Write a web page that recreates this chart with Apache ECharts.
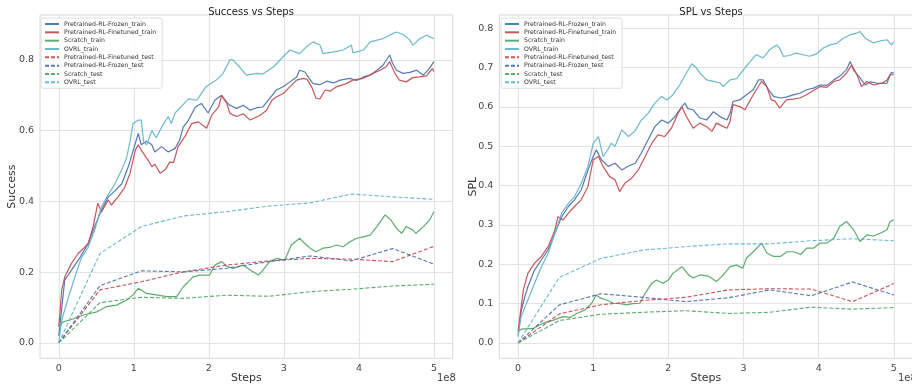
<!DOCTYPE html>
<html>
<head>
<meta charset="utf-8">
<script src="https://cdn.jsdelivr.net/npm/echarts@6/dist/echarts.min.js"></script>
<style>html,body{margin:0;padding:0;background:#fff}#c{width:912px;height:385px}</style>
</head>
<body>
<div id="c"></div>
<script>
// x values are training steps in units of 1e8
const xTicks = [0, 1, 2, 3, 4, 5];
const successTicks = [0, 0.2, 0.4, 0.6, 0.8];
const splTicks = [0, 0.1, 0.2, 0.3, 0.4, 0.5, 0.6, 0.7, 0.8];
const seriesNames = ['Pretrained-RL-Frozen_train','Pretrained-RL-Finetuned_train','Scratch_train','OVRL_train','Pretrained-RL-Finetuned_test','Pretrained-RL-Frozen_test','Scratch_test','OVRL_test'];

const successFrozenTrain = [[0,0.02],[0.04,0.10],[0.08,0.178],[0.17,0.206],[0.26,0.234],[0.39,0.28],[0.48,0.33],[0.57,0.376],[0.66,0.413],[0.75,0.43],[0.84,0.45],[0.93,0.50],[1.02,0.564],[1.06,0.592],[1.1,0.56],[1.17,0.57],[1.24,0.56],[1.28,0.54],[1.37,0.555],[1.46,0.54],[1.55,0.55],[1.61,0.573],[1.66,0.611],[1.73,0.63],[1.82,0.667],[1.9,0.677],[1.99,0.65],[2.08,0.686],[2.17,0.70],[2.24,0.68],[2.28,0.672],[2.37,0.663],[2.46,0.672],[2.55,0.658],[2.64,0.665],[2.72,0.667],[2.79,0.686],[2.9,0.715],[2.99,0.724],[3.08,0.738],[3.17,0.752],[3.21,0.771],[3.28,0.766],[3.33,0.75],[3.39,0.733],[3.48,0.73],[3.57,0.74],[3.66,0.735],[3.75,0.743],[3.88,0.748],[3.97,0.742],[4.06,0.752],[4.15,0.757],[4.24,0.771],[4.32,0.785],[4.41,0.814],[4.45,0.79],[4.5,0.771],[4.59,0.762],[4.68,0.765],[4.77,0.771],[4.86,0.757],[4.94,0.776],[5.0,0.795]];
const successFinetunedTrain = [[0,0.045],[0.04,0.15],[0.08,0.187],[0.17,0.225],[0.26,0.253],[0.39,0.28],[0.46,0.33],[0.52,0.395],[0.57,0.37],[0.66,0.404],[0.7,0.39],[0.79,0.413],[0.88,0.44],[0.95,0.48],[1.02,0.545],[1.06,0.56],[1.1,0.545],[1.19,0.517],[1.24,0.498],[1.28,0.505],[1.35,0.48],[1.42,0.49],[1.48,0.512],[1.53,0.51],[1.59,0.555],[1.68,0.583],[1.77,0.62],[1.86,0.625],[1.97,0.607],[2.04,0.644],[2.13,0.667],[2.17,0.70],[2.24,0.677],[2.28,0.649],[2.37,0.64],[2.46,0.648],[2.55,0.63],[2.68,0.643],[2.77,0.658],[2.84,0.686],[2.9,0.695],[2.99,0.705],[3.08,0.724],[3.17,0.743],[3.26,0.748],[3.31,0.745],[3.37,0.724],[3.43,0.691],[3.48,0.69],[3.55,0.715],[3.62,0.712],[3.7,0.724],[3.83,0.733],[3.92,0.743],[4.06,0.748],[4.19,0.762],[4.28,0.771],[4.36,0.78],[4.41,0.795],[4.48,0.762],[4.54,0.743],[4.63,0.738],[4.72,0.75],[4.81,0.752],[4.9,0.755],[4.98,0.776],[5.0,0.767]];
const successScratchTrain = [[0,0.046],[0.06,0.06],[0.15,0.065],[0.33,0.079],[0.51,0.088],[0.64,0.103],[0.77,0.107],[0.9,0.121],[0.99,0.136],[1.06,0.155],[1.17,0.14],[1.3,0.136],[1.44,0.131],[1.57,0.131],[1.66,0.159],[1.79,0.187],[1.88,0.192],[2.01,0.192],[2.08,0.22],[2.17,0.23],[2.24,0.217],[2.32,0.211],[2.46,0.22],[2.55,0.206],[2.66,0.192],[2.72,0.206],[2.81,0.23],[2.9,0.239],[3.01,0.234],[3.1,0.277],[3.21,0.296],[3.28,0.281],[3.35,0.268],[3.43,0.258],[3.52,0.268],[3.61,0.27],[3.7,0.277],[3.79,0.272],[3.88,0.286],[3.97,0.296],[4.06,0.30],[4.15,0.305],[4.24,0.329],[4.35,0.362],[4.43,0.347],[4.5,0.324],[4.57,0.31],[4.63,0.329],[4.72,0.319],[4.76,0.31],[4.86,0.329],[4.94,0.347],[5.0,0.371]];
const successOvrlTrain = [[0,0.0],[0.04,0.065],[0.13,0.13],[0.22,0.19],[0.3,0.24],[0.39,0.27],[0.48,0.32],[0.57,0.385],[0.66,0.42],[0.75,0.45],[0.84,0.49],[0.9,0.52],[0.95,0.57],[0.99,0.62],[1.06,0.63],[1.1,0.63],[1.13,0.57],[1.17,0.56],[1.24,0.60],[1.3,0.58],[1.37,0.61],[1.46,0.64],[1.5,0.62],[1.55,0.65],[1.64,0.67],[1.73,0.69],[1.84,0.686],[1.96,0.724],[2.1,0.743],[2.19,0.762],[2.28,0.80],[2.32,0.80],[2.41,0.78],[2.5,0.757],[2.64,0.762],[2.72,0.76],[2.86,0.78],[2.99,0.809],[3.08,0.828],[3.21,0.818],[3.3,0.837],[3.39,0.851],[3.48,0.842],[3.52,0.818],[3.65,0.822],[3.79,0.828],[3.9,0.842],[3.92,0.82],[4.06,0.828],[4.15,0.851],[4.32,0.86],[4.41,0.87],[4.5,0.879],[4.59,0.872],[4.68,0.856],[4.72,0.842],[4.81,0.86],[4.9,0.87],[5.0,0.86]];

const testSteps = [0, 0.55, 1.1, 1.66, 2.23, 2.8, 3.35, 3.9, 4.45, 5.0];
const successFinetunedTest = [0, 0.15, 0.173, 0.201, 0.22, 0.232, 0.239, 0.237, 0.23, 0.273];
const successFrozenTest = [0, 0.162, 0.204, 0.201, 0.211, 0.23, 0.246, 0.232, 0.267, 0.223];
const successScratchTest = [0, 0.114, 0.129, 0.126, 0.135, 0.132, 0.145, 0.152, 0.161, 0.166];
const successOvrlTest = [0, 0.253, 0.329, 0.359, 0.371, 0.387, 0.396, 0.421, 0.413, 0.406];

const splFrozenTrain = [[0,0.02],[0.04,0.08],[0.09,0.118],[0.13,0.143],[0.22,0.186],[0.31,0.211],[0.4,0.237],[0.49,0.279],[0.58,0.321],[0.67,0.347],[0.75,0.364],[0.84,0.389],[0.93,0.44],[1.0,0.474],[1.04,0.491],[1.11,0.466],[1.2,0.449],[1.29,0.457],[1.38,0.44],[1.47,0.45],[1.56,0.457],[1.64,0.483],[1.73,0.517],[1.82,0.55],[1.91,0.567],[2.0,0.559],[2.09,0.576],[2.18,0.601],[2.22,0.61],[2.26,0.596],[2.33,0.593],[2.42,0.572],[2.51,0.567],[2.6,0.588],[2.69,0.575],[2.78,0.567],[2.82,0.584],[2.86,0.614],[2.95,0.618],[3.04,0.631],[3.13,0.644],[3.2,0.669],[3.26,0.669],[3.33,0.645],[3.4,0.627],[3.49,0.623],[3.57,0.625],[3.66,0.631],[3.75,0.635],[3.84,0.644],[3.93,0.648],[4.02,0.656],[4.11,0.655],[4.2,0.669],[4.28,0.678],[4.37,0.695],[4.42,0.716],[4.46,0.695],[4.55,0.674],[4.62,0.656],[4.69,0.664],[4.77,0.661],[4.84,0.66],[4.91,0.669],[4.97,0.688],[5.0,0.686]];
const splFinetunedTrain = [[0,0.03],[0.07,0.135],[0.13,0.177],[0.22,0.203],[0.31,0.22],[0.4,0.245],[0.49,0.287],[0.53,0.321],[0.6,0.313],[0.67,0.33],[0.75,0.347],[0.84,0.364],[0.93,0.398],[1.0,0.466],[1.07,0.474],[1.13,0.449],[1.22,0.423],[1.29,0.415],[1.35,0.385],[1.42,0.406],[1.51,0.419],[1.6,0.44],[1.69,0.474],[1.78,0.508],[1.86,0.529],[1.95,0.525],[2.04,0.546],[2.13,0.584],[2.18,0.601],[2.24,0.576],[2.33,0.546],[2.42,0.559],[2.51,0.55],[2.58,0.538],[2.64,0.559],[2.71,0.552],[2.78,0.546],[2.82,0.563],[2.86,0.606],[2.95,0.601],[3.02,0.593],[3.09,0.618],[3.17,0.644],[3.24,0.665],[3.31,0.652],[3.37,0.618],[3.42,0.615],[3.48,0.597],[3.57,0.618],[3.66,0.62],[3.75,0.623],[3.84,0.631],[3.93,0.642],[4.02,0.652],[4.11,0.65],[4.2,0.665],[4.28,0.669],[4.37,0.686],[4.44,0.707],[4.51,0.682],[4.57,0.652],[4.64,0.665],[4.73,0.656],[4.82,0.66],[4.91,0.661],[4.95,0.682],[5.0,0.682]];
const splScratchTrain = [[0,0.029],[0.04,0.035],[0.2,0.037],[0.33,0.05],[0.47,0.058],[0.6,0.067],[0.69,0.065],[0.78,0.075],[0.89,0.084],[0.98,0.101],[1.04,0.122],[1.1,0.114],[1.17,0.11],[1.27,0.101],[1.36,0.1],[1.44,0.097],[1.53,0.1],[1.62,0.101],[1.69,0.126],[1.78,0.152],[1.84,0.16],[1.93,0.152],[2.0,0.16],[2.06,0.177],[2.18,0.194],[2.27,0.173],[2.33,0.165],[2.42,0.173],[2.53,0.17],[2.64,0.156],[2.73,0.173],[2.82,0.194],[2.91,0.198],[2.99,0.19],[3.04,0.216],[3.13,0.232],[3.24,0.254],[3.31,0.229],[3.4,0.22],[3.49,0.22],[3.58,0.232],[3.67,0.232],[3.76,0.225],[3.84,0.241],[3.93,0.241],[4.02,0.254],[4.11,0.254],[4.2,0.266],[4.28,0.296],[4.37,0.309],[4.46,0.289],[4.55,0.258],[4.64,0.275],[4.73,0.272],[4.82,0.279],[4.91,0.288],[4.95,0.309],[5.0,0.313]];
const splOvrlTrain = [[0,0.016],[0.04,0.067],[0.13,0.109],[0.22,0.152],[0.31,0.194],[0.4,0.228],[0.49,0.279],[0.58,0.33],[0.67,0.355],[0.75,0.372],[0.84,0.406],[0.93,0.449],[1.0,0.508],[1.07,0.525],[1.13,0.474],[1.19,0.49],[1.24,0.508],[1.29,0.5],[1.38,0.542],[1.47,0.525],[1.56,0.54],[1.64,0.567],[1.73,0.584],[1.82,0.61],[1.91,0.627],[1.98,0.618],[2.06,0.631],[2.15,0.656],[2.24,0.686],[2.31,0.71],[2.37,0.70],[2.42,0.686],[2.51,0.669],[2.6,0.665],[2.69,0.661],[2.73,0.652],[2.82,0.669],[2.91,0.672],[3.0,0.695],[3.09,0.716],[3.17,0.733],[3.26,0.725],[3.35,0.746],[3.44,0.758],[3.48,0.75],[3.53,0.729],[3.61,0.731],[3.7,0.737],[3.79,0.733],[3.88,0.729],[3.97,0.735],[4.06,0.75],[4.15,0.758],[4.24,0.762],[4.33,0.775],[4.42,0.784],[4.51,0.788],[4.55,0.792],[4.62,0.775],[4.73,0.763],[4.82,0.768],[4.91,0.771],[4.97,0.758],[5.0,0.766]];

const splFinetunedTest = [0, 0.074, 0.097, 0.108, 0.116, 0.135, 0.138, 0.137, 0.105, 0.151];
const splFrozenTest = [0, 0.097, 0.125, 0.116, 0.105, 0.115, 0.135, 0.12, 0.155, 0.122];
const splScratchTest = [0, 0.057, 0.073, 0.078, 0.082, 0.075, 0.078, 0.091, 0.086, 0.09];
const splOvrlTest = [0, 0.167, 0.215, 0.236, 0.245, 0.252, 0.252, 0.26, 0.265, 0.26];

const BLUE = '#4C72B0', RED = '#C44E52', GREEN = '#55A868', CYAN = '#64B5CD';
const FONT = 'DejaVu Sans';
const zip = (xs, ys) => xs.map((x, i) => [x, ys[i]]);

function mk(name, data, color, dashed, gi) {
  return {
    type: 'line', name, data, xAxisIndex: gi, yAxisIndex: gi,
    symbol: 'none', showSymbol: false, animation: false,
    lineStyle: { color, width: dashed ? 1.1 : 1.2, type: dashed ? [4, 2] : 'solid', opacity: 0.95 },
    itemStyle: { color }
  };
}

function seriesFor(gi, tr, te) {
  return [
    mk(seriesNames[0], tr[0], BLUE, false, gi),
    mk(seriesNames[1], tr[1], RED, false, gi),
    mk(seriesNames[2], tr[2], GREEN, false, gi),
    mk(seriesNames[3], tr[3], CYAN, false, gi),
    mk(seriesNames[4], zip(testSteps, te[0]), RED, true, gi),
    mk(seriesNames[5], zip(testSteps, te[1]), BLUE, true, gi),
    mk(seriesNames[6], zip(testSteps, te[2]), GREEN, true, gi),
    mk(seriesNames[7], zip(testSteps, te[3]), CYAN, true, gi)
  ];
}

function xAxis(gi) {
  return {
    type: 'value', gridIndex: gi, min: -0.25, max: 5.25,
    name: 'Steps', nameLocation: 'middle', nameGap: 14, nameMoveOverlap: false,
    nameTextStyle: { fontFamily: FONT, fontSize: 11, color: '#333' },
    axisLine: { show: false }, axisTick: { show: false, customValues: xTicks },
    axisLabel: { customValues: xTicks, fontFamily: FONT, fontSize: 9.5, color: '#444', margin: 5, formatter: v => String(Math.round(v)) },
    splitLine: { show: true, lineStyle: { color: '#e3e3e3', width: 1.2 } }
  };
}
function yAxis(gi, min, max, ticks, name, gap) {
  return {
    type: 'value', gridIndex: gi, min, max,
    name, nameLocation: 'middle', nameGap: gap, nameRotate: 90, nameMoveOverlap: false,
    nameTextStyle: { fontFamily: FONT, fontSize: 11, color: '#333' },
    axisLine: { show: false }, axisTick: { show: false, customValues: ticks },
    axisLabel: { customValues: ticks, fontFamily: FONT, fontSize: 9.5, color: '#444', margin: 6, formatter: v => v.toFixed(1) },
    splitLine: { show: true, lineStyle: { color: '#e3e3e3', width: 1.2 } }
  };
}
function legend(left) {
  return {
    data: seriesNames.map(n => ({ name: n })), orient: 'vertical', left, top: 18,
    itemWidth: 14, itemHeight: 7, itemGap: 2.33,
    itemStyle: { opacity: 0 },
    textStyle: { fontFamily: FONT, fontSize: 6.2, color: '#333', padding: [0, 0, 0, 0] },
    padding: [3, 6, 3, 3], borderColor: '#d6d6d6', borderWidth: 0.8, borderRadius: 2,
    backgroundColor: 'rgba(255,255,255,0.85)', selectedMode: false
  };
}

const chart = echarts.init(document.getElementById('c'), null, { renderer: 'canvas' });
chart.setOption({
  animation: false,
  backgroundColor: '#fff',
  title: [
    { text: 'Success vs Steps', left: 246, top: 2, textAlign: 'center', textStyle: { fontFamily: FONT, fontSize: 10, fontWeight: 'normal', color: '#222' } },
    { text: 'SPL vs Steps', left: 706, top: 2, textAlign: 'center', textStyle: { fontFamily: FONT, fontSize: 10, fontWeight: 'normal', color: '#222' } }
  ],
  legend: [legend(41), legend(501)],
  grid: [
    { left: 40, top: 15, width: 412.7, height: 343.3, show: true, borderColor: '#d9d9d9', borderWidth: 1, backgroundColor: 'transparent', outerBoundsMode: 'none', containLabel: false },
    { left: 499.3, top: 15, width: 413.3, height: 343.3, show: true, borderColor: '#d9d9d9', borderWidth: 1, backgroundColor: 'transparent', outerBoundsMode: 'none', containLabel: false }
  ],
  xAxis: [xAxis(0), xAxis(1)],
  yAxis: [yAxis(0, -0.0433, 0.927, successTicks, 'Success', 22), yAxis(1, -0.039, 0.834, splTicks, 'SPL', 21)],
  graphic: [
    { type: 'text', left: 437, top: 373, style: { text: '1e8', font: '10px "DejaVu Sans"', fill: '#444' } },
    { type: 'text', left: 898, top: 373, style: { text: '1e8', font: '10px "DejaVu Sans"', fill: '#444' } }
  ],
  series: [
    ...seriesFor(0, [successFrozenTrain, successFinetunedTrain, successScratchTrain, successOvrlTrain], [successFinetunedTest, successFrozenTest, successScratchTest, successOvrlTest]),
    ...seriesFor(1, [splFrozenTrain, splFinetunedTrain, splScratchTrain, splOvrlTrain], [splFinetunedTest, splFrozenTest, splScratchTest, splOvrlTest])
  ]
});
</script>
</body>
</html>
